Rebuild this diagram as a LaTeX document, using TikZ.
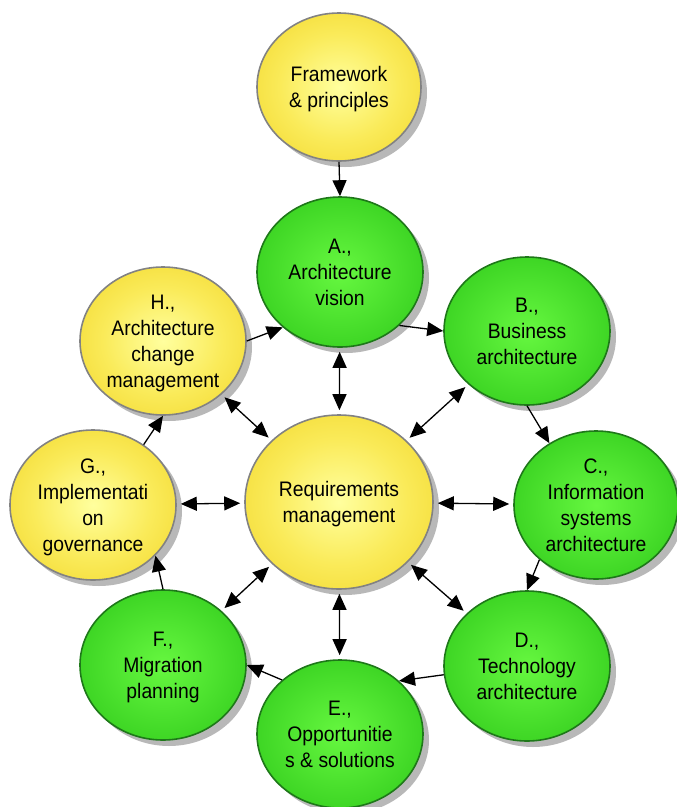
\documentclass[tikz,border=0pt]{standalone}
\usepackage{fontspec}
\setmainfont[FakeStretch=0.92]{Liberation Sans}
\usetikzlibrary{shapes.geometric,arrows.meta,shadows}
\pgfdeclareradialshading{yelshade}{\pgfpoint{0bp}{0bp}}{rgb(0bp)=(1,1,0.62);rgb(18bp)=(0.98,0.92,0.35);rgb(40bp)=(0.94,0.82,0.12);rgb(50bp)=(0.94,0.82,0.12)}
\pgfdeclareradialshading{grnshade}{\pgfpoint{0bp}{0bp}}{rgb(0bp)=(0.4,0.97,0.25);rgb(40bp)=(0.15,0.76,0.08);rgb(50bp)=(0.15,0.76,0.08)}
\definecolor{gborder}{RGB}{30,120,25}
\definecolor{yborder}{RGB}{130,130,130}
\newcommand\bubtext[1]{\raisebox{-2pt}[\height][\depth]{\begin{tabular}{@{}c@{}}#1\end{tabular}}}
\begin{document}
\begin{tikzpicture}[x=1pt,y=-1pt,
  bub/.style={ellipse,inner sep=0pt,line width=1.6pt,
    font=\fontsize{21}{26}\selectfont,
    drop shadow={shadow xshift=6pt,shadow yshift=-6pt,fill=black!28,opacity=1}},
  ybub/.style={bub,draw=yborder,shading=yelshade},
  gbub/.style={bub,draw=gborder,shading=grnshade},
  bigtip/.tip={Triangle[length=16pt,width=14pt]},
  ar/.style={line width=1.3pt,-bigtip},
  dar/.style={line width=1.3pt,bigtip-bigtip,shorten <=4pt,shorten >=4pt}]
\useasboundingbox (0,0) rectangle (677,807);
\node[ybub,minimum width=164pt,minimum height=148pt] (fw) at (339,87) {\bubtext{Framework\\\& principles}};
\node[gbub,minimum width=166pt,minimum height=150pt] (A) at (340,272) {\bubtext{A.,\\Architecture\\vision}};
\node[gbub,minimum width=166pt,minimum height=148pt] (B) at (527,331) {\bubtext{B.,\\Business\\architecture}};
\node[gbub,minimum width=164pt,minimum height=148pt] (C) at (596,505) {\bubtext{C.,\\Information\\systems\\architecture}};
\node[gbub,minimum width=166pt,minimum height=150pt] (D) at (527,666) {\bubtext{D.,\\Technology\\architecture}};
\node[gbub,minimum width=166pt,minimum height=148pt] (E) at (340,734) {\bubtext{E.,\\Opportunitie\\s \& solutions}};
\node[gbub,minimum width=166pt,minimum height=150pt] (F) at (163,665) {\bubtext{F.,\\Migration\\planning}};
\node[ybub,minimum width=166pt,minimum height=150pt] (G) at (93,505) {\bubtext{G.,\\Implementati\\on\\governance}};
\node[ybub,minimum width=166pt,minimum height=148pt] (H) at (163,341) {\bubtext{H.,\\Architecture\\change\\management}};
\node[ybub,minimum width=188pt,minimum height=174pt] (R) at (339,502) {\bubtext{Requirements\\management}};
% cycle
\draw[ar] (fw.south) -- (A.north);
\draw[ar] (H.0) -- (A.224);
\draw[ar] (A.-42) -- (B.180);
\draw[ar] (B.south) -- (C.127);
\draw[ar] (C.-136) -- (D.north);
\draw[ar] (D.186) -- (E.42);
\draw[ar] (E.137) -- (F.0);
\draw[ar] (F.north) -- (G.-39);
\draw[ar] (G.50) -- (H.south);
% requirements links
\foreach \n in {A,B,C,D,E,F,G,H}{\draw[dar] (R) -- (\n);}
\end{tikzpicture}
\end{document}
